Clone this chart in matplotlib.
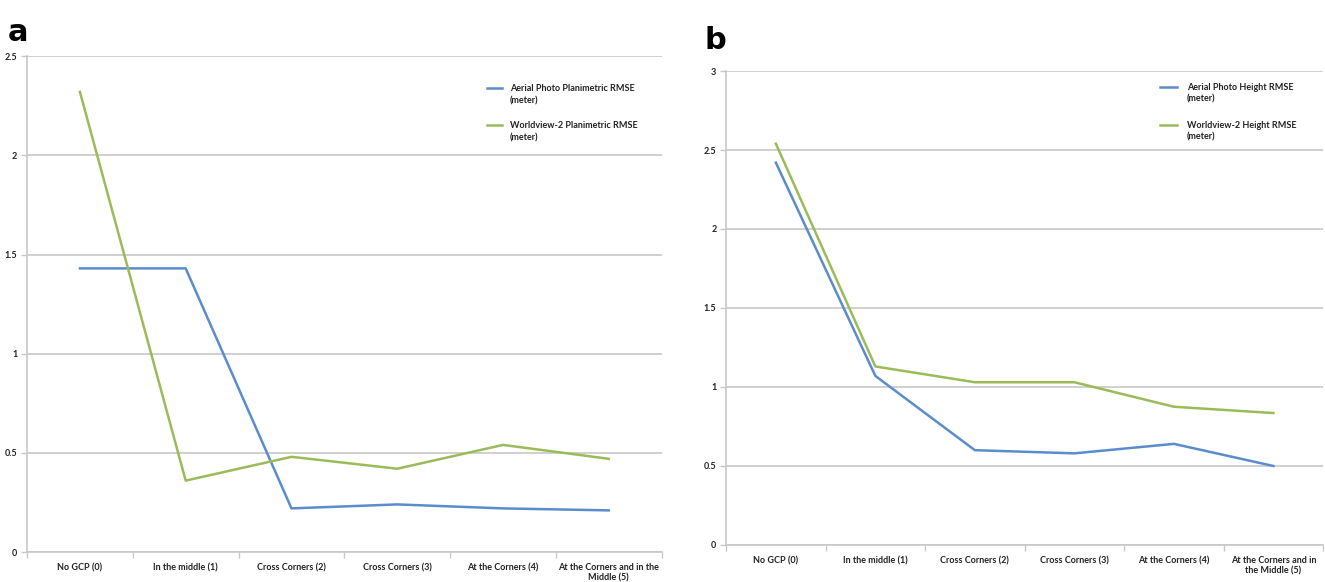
import matplotlib
matplotlib.use("Agg")
import matplotlib.pyplot as plt
import numpy as np

plt.rcParams['font.family'] = ['Lato', 'DejaVu Sans']

# categories (x axis)
cats_a = ['No GCP (0)', 'In the middle (1)', 'Cross Corners (2)', 'Cross Corners (3)',
          'At the Corners (4)', 'At the Corners and in the\nMiddle (5)']
cats_b = ['No GCP (0)', 'In the middle (1)', 'Cross Corners (2)', 'Cross Corners (3)',
          'At the Corners (4)', 'At the Corners and in\nthe Middle (5)']

# panel a - planimetric RMSE
aerial_plan = [1.43, 1.43, 0.22, 0.24, 0.22, 0.21]
wv2_plan = [2.32, 0.36, 0.48, 0.42, 0.54, 0.47]

# panel b - height RMSE
aerial_height = [2.42, 1.07, 0.60, 0.58, 0.64, 0.50]
wv2_height = [2.54, 1.13, 1.03, 1.03, 0.875, 0.835]

labels_a = ['Aerial Photo Planimetric RMSE', 'Worldview-2 Planimetric RMSE']
labels_b = ['Aerial Photo Height RMSE', 'Worldview-2 Height RMSE']

BLUE = '#5b8ccc'
GREEN = '#9bbb59'
GRID = '#c8c8c8'
TXT = '#222222'
FS = 6.5


def style_axes(ax, cats, ymax):
    n = len(cats)
    x = np.arange(n)
    ax.set_xlim(-0.5, n - 0.5)
    ax.set_ylim(0, ymax)
    yt = np.arange(0, ymax + 0.01, 0.5)
    ax.set_yticks(yt)
    ax.set_yticklabels(['%g' % v for v in yt], fontweight='bold')
    ax.yaxis.grid(True, color=GRID, lw=1.2)
    ax.set_axisbelow(True)
    for s in ['top', 'right']:
        ax.spines[s].set_visible(False)
    for s in ['left', 'bottom']:
        ax.spines[s].set_color(GRID)
        ax.spines[s].set_linewidth(1.2)
    # category labels between boundary ticks (Excel style)
    ax.set_xticks(np.arange(-0.5, n, 1.0))
    ax.set_xticklabels([])
    ax.set_xticks(x, minor=True)
    ax.set_xticklabels(cats, minor=True, fontsize=FS, fontweight='bold', color=TXT)
    ax.tick_params(axis='x', which='major', length=4, color=GRID, width=1)
    ax.tick_params(axis='x', which='minor', length=0, pad=8)
    ax.tick_params(axis='y', length=4, color=GRID, width=1, labelsize=FS, labelcolor=TXT, pad=3)


def legend(ax, labels, colors, x0, x1, xt, ys, dy):
    # excel-like legend: handle aligned with first text line
    for lab, c, y in zip(labels, colors, ys):
        ax.plot([x0, x1], [y, y], color=c, lw=1.8, transform=ax.transAxes, clip_on=False)
        ax.text(xt, y, lab, transform=ax.transAxes, fontsize=FS, fontweight='bold',
                color=TXT, va='center')
        ax.text(xt, y - dy, '(meter)', transform=ax.transAxes, fontsize=FS,
                fontweight='bold', color=TXT, va='center')


fig = plt.figure(figsize=(13.25, 5.82), dpi=100)

ax_a = fig.add_axes([0.0204, 0.0515, 0.479, 0.852])
xa = np.arange(len(cats_a))
ax_a.plot(xa, aerial_plan, color=BLUE, lw=1.8)
ax_a.plot(xa, wv2_plan, color=GREEN, lw=1.8)
style_axes(ax_a, cats_a, 2.5)
legend(ax_a, labels_a, [BLUE, GREEN], 0.724, 0.748, 0.761, [0.935, 0.861], 0.025)

ax_b = fig.add_axes([0.548, 0.0636, 0.4506, 0.8144])
xb = np.arange(len(cats_b))
ax_b.plot(xb, aerial_height, color=BLUE, lw=1.8)
ax_b.plot(xb, wv2_height, color=GREEN, lw=1.8)
style_axes(ax_b, cats_b, 3.0)
legend(ax_b, labels_b, [BLUE, GREEN], 0.727, 0.755, 0.772, [0.966, 0.886], 0.026)

fig.text(0.006, 0.945, 'a', fontsize=22, fontweight='bold', family='DejaVu Sans', va='center')
fig.text(0.532, 0.93, 'b', fontsize=22, fontweight='bold', family='DejaVu Sans', va='center')

fig.savefig('out.png', dpi=100, facecolor='white')
